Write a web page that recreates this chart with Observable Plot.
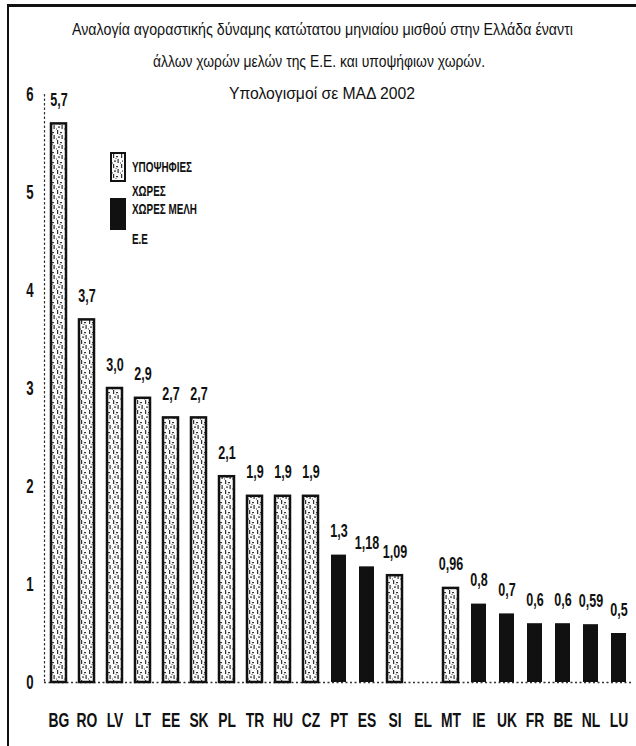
<!DOCTYPE html>
<html>
<head>
<meta charset="utf-8">
<script src="https://cdn.jsdelivr.net/npm/d3@7"></script>
<script src="https://cdn.jsdelivr.net/npm/@observablehq/plot@0.6"></script>
<style>
  body { margin: 0; background: #fff; }
  #wrap { position: relative; width: 636px; height: 746px; overflow: hidden; color: #111;
          font-family: "Liberation Sans", Arial, sans-serif; }
  #border { position: absolute; left: 7px; top: 4px; right: -4px; bottom: -4px;
            border-left: 2px solid #111; border-top: 3px solid #111; }
  #title { position: absolute; left: 0; top: 14px; width: 636px; font-size: 17px; line-height: 32px; }
  #title div { position: absolute; white-space: nowrap; transform-origin: 0 50%; }
  #chart { position: absolute; left: 0; top: 0; }
  .lg-sw { position: absolute; width: 16px; box-sizing: border-box; }
  .lg-tx { position: absolute; font-weight: bold; font-size: 14px; line-height: 14px; white-space: nowrap;
           transform-origin: 0 50%; }
</style>
</head>
<body>
<svg width="0" height="0" style="position:absolute">
  <defs>
    <pattern id="stipple" patternUnits="userSpaceOnUse" width="8" height="10">
      <rect width="8" height="10" fill="#fafafa"/>
      <rect x="1" y="0" width="1.2" height="4" fill="#333"/>
      <rect x="4" y="2" width="2" height="1.2" fill="#333"/>
      <rect x="5.5" y="5" width="1.2" height="4" fill="#333"/>
      <rect x="2" y="6.5" width="2" height="1.2" fill="#333"/>
      <rect x="0" y="8.5" width="1" height="1" fill="#444"/>
      <rect x="3.5" y="4" width="1" height="1" fill="#555"/>
    </pattern>
  </defs>
</svg>
<div id="wrap">
  <div id="border"></div>
  <div id="chart"></div>
  <div id="title"></div>
  <div id="legend"></div>
</div>
<script>
// ---- data ----
const titleLines = [
  "Αναλογία αγοραστικής δύναμης κατώτατου μηνιαίου μισθού στην Ελλάδα έναντι",
  "άλλων χωρών μελών της Ε.Ε. και υποψήφιων χωρών.",
  "Υπολογισμοί σε ΜΑΔ 2002"
];
const countries = ["BG","RO","LV","LT","EE","SK","PL","TR","HU","CZ","PT","ES","SI","EL","MT","IE","UK","FR","BE","NL","LU"];
const values    = [5.7, 3.7, 3.0, 2.9, 2.7, 2.7, 2.1, 1.9, 1.9, 1.9, 1.3, 1.18, 1.09, null, 0.96, 0.8, 0.7, 0.6, 0.6, 0.59, 0.5];
const valueLabels = ["5,7","3,7","3,0","2,9","2,7","2,7","2,1","1,9","1,9","1,9","1,3","1,18","1,09","","0,96","0,8","0,7","0,6","0,6","0,59","0,5"];
const groups    = ["c","c","c","c","c","c","c","c","c","c","m","m","c","m","c","m","m","m","m","m","m"];
const groupNames = { c: ["ΥΠΟΨΗΦΙΕΣ", "ΧΩΡΕΣ"], m: ["ΧΩΡΕΣ ΜΕΛΗ", "Ε.Ε"] };
const yTicks = [0, 1, 2, 3, 4, 5, 6];

const data = countries.map((c, i) => ({ country: c, value: values[i], label: valueLabels[i], group: groups[i] }));
const withValue = data.filter(d => d.value != null);

// ---- title (each line condensed to the reference's width) ----
const titleLayout = [ { cx: 322, w: 501 }, { cx: 319, w: 332 }, { cx: 322, w: 186 } ];
const titleEl = document.getElementById("title");
titleLines.forEach((t, i) => {
  const div = document.createElement("div");
  div.textContent = t;
  titleEl.appendChild(div);
  const w = div.getBoundingClientRect().width;
  const s = titleLayout[i].w / w;
  div.style.top = (i * 32) + "px";
  div.style.left = (titleLayout[i].cx - titleLayout[i].w / 2) + "px";
  div.style.transform = `scaleX(${s})`;
});

// ---- legend ----
const lg = document.getElementById("legend");
lg.innerHTML = `
  <div class="lg-sw" style="left:110px;top:152px;height:30px;border:2.5px solid #111;background:#fff">
    <svg width="11" height="25" style="display:block"><rect width="11" height="25" fill="url(#stipple)"/></svg></div>
  <div class="lg-tx" style="left:132px;top:160px">${groupNames.c[0]}</div>
  <div class="lg-tx" style="left:132px;top:184px">${groupNames.c[1]}</div>
  <div class="lg-sw" style="left:110px;top:198px;height:32px;background:#111"></div>
  <div class="lg-tx" style="left:132px;top:202px">${groupNames.m[0]}</div>
  <div class="lg-tx" style="left:132px;top:232px">${groupNames.m[1]}</div>
`;
const lgTexts = lg.querySelectorAll(".lg-tx");
const lgScale = 60 / lgTexts[0].getBoundingClientRect().width;
lgTexts.forEach(el => el.style.transform = `scaleX(${lgScale})`);

// ---- chart ----
const font = `"Liberation Sans", Arial, sans-serif`;
const chart = Plot.plot({
  width: 636,
  height: 746,
  marginTop: 94,
  marginBottom: 64,
  marginLeft: 44,
  marginRight: 4,
  style: { fontFamily: font, color: "#111", background: "transparent", overflow: "visible" },
  x: { type: "band", domain: countries, paddingInner: 0.48, paddingOuter: 0.2, label: null },
  y: { domain: [0, 6], label: null },
  marks: [
    Plot.frame({ anchor: "left", stroke: "#333", strokeDasharray: "1.5,3", strokeWidth: 1.2 }),
    Plot.ruleY([0], { stroke: "#333", strokeDasharray: "2,2.5", strokeWidth: 1.4 }),
    Plot.barY(withValue.filter(d => d.group === "c"), {
      x: "country", y: "value", fill: "url(#stipple)", stroke: "#111", strokeWidth: 2.5
    }),
    Plot.barY(withValue.filter(d => d.group === "m"), {
      x: "country", y: "value", fill: "#111"
    }),
    Plot.text(withValue, {
      x: "country", y: "value", text: "label", lineAnchor: "bottom", dy: -18,
      fontSize: 19, fontWeight: "bold", fill: "#111"
    }),
    Plot.axisX({ tickSize: 0, tickPadding: 30, fontSize: 21, fontWeight: "bold", label: null }),
    Plot.axisY({ ticks: yTicks, tickSize: 0, tickPadding: 11, fontSize: 20, fontWeight: "bold", tickFormat: d => String(d), label: null })
  ]
});
document.getElementById("chart").appendChild(chart);

// condense all chart texts horizontally about their own anchor (narrow typeface look):
// move each text's transform onto a wrapping group, then scale the text in x about its x
const sx = 0.66;
chart.querySelectorAll("text").forEach(t => {
  const tr = t.getAttribute("transform");
  const g = document.createElementNS("http://www.w3.org/2000/svg", "g");
  if (tr) g.setAttribute("transform", tr);
  t.parentNode.insertBefore(g, t);
  g.appendChild(t);
  const xa = t.getAttribute("x");
  const x = xa && /^-?[\d.]+$/.test(xa.trim()) ? +xa : 0;
  t.setAttribute("transform", `translate(${x},0) scale(${sx},1) translate(${-x},0)`);
});
</script>
</body>
</html>
